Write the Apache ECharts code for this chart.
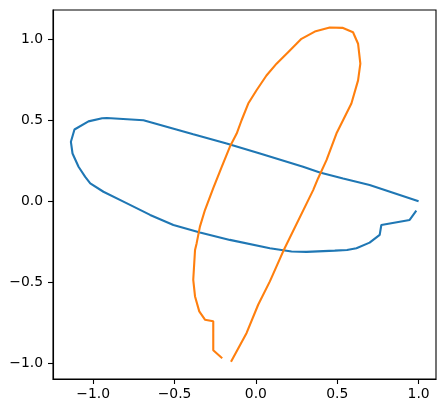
<!DOCTYPE html>
<html>
<head>
<meta charset="utf-8">
<script src="https://cdn.jsdelivr.net/npm/echarts@6/dist/echarts.min.js"></script>
<style>html,body{margin:0;padding:0;background:#fff;}#chart{width:446px;height:413px;}</style>
</head>
<body>
<div id="chart"></div>
<script>
const blueX = [1.0, 0.699, 0.536, 0.393, 0.290, 0.025, -0.180, -0.385, -0.691, -0.916, -0.945, -1.029, -1.115, -1.137, -1.127, -1.090, -1.049, -1.018, -0.937, -0.814, -0.650, -0.507, -0.344, -0.160, 0.086, 0.219, 0.311, 0.485, 0.560, 0.618, 0.699, 0.761, 0.771, 0.945, 0.986];
const blueY = [0.0, 0.100, 0.141, 0.178, 0.213, 0.295, 0.357, 0.414, 0.500, 0.514, 0.512, 0.493, 0.443, 0.367, 0.295, 0.213, 0.151, 0.111, 0.059, -0.002, -0.084, -0.146, -0.193, -0.238, -0.289, -0.310, -0.312, -0.304, -0.300, -0.289, -0.255, -0.207, -0.146, -0.115, -0.058];
const orangeX = [-0.207, -0.262, -0.262, -0.313, -0.348, -0.374, -0.385, -0.374, -0.364, -0.344, -0.313, -0.262, -0.210, -0.160, -0.118, -0.088, -0.047, 0.004, 0.065, 0.127, 0.198, 0.280, 0.362, 0.454, 0.532, 0.597, 0.628, 0.642, 0.628, 0.587, 0.495, 0.434, 0.382, 0.352, 0.167, 0.086, 0.014, -0.057, -0.153];
const orangeY = [-0.968, -0.919, -0.740, -0.730, -0.679, -0.587, -0.484, -0.300, -0.258, -0.156, -0.054, 0.082, 0.213, 0.336, 0.418, 0.500, 0.603, 0.685, 0.776, 0.849, 0.920, 1.002, 1.047, 1.072, 1.070, 1.043, 0.972, 0.849, 0.746, 0.603, 0.418, 0.254, 0.141, 0.069, -0.310, -0.494, -0.638, -0.812, -0.990];
const tickValues = [-1.0, -0.5, 0.0, 0.5, 1.0];

const zip = (xs, ys) => xs.map((x, i) => [x, ys[i]]);
const fmt = v => v.toFixed(1).replace('-', '\u2212');
const font = {fontFamily: 'DejaVu Sans', fontSize: 13.9, color: '#000'};

const chart = echarts.init(document.getElementById('chart'), null, {renderer: 'canvas'});
chart.setOption({
  animation: false,
  grid: {left: 53, right: 10, top: 10, bottom: 34, show: true, borderColor: '#000', borderWidth: 1.1, containLabel: false},
  xAxis: {
    type: 'value', min: -1.247, max: 1.107,
    splitLine: {show: false},
    axisLine: {show: true, onZero: false, lineStyle: {color: '#000', width: 1.1}},
    axisTick: {show: true, length: 5, customValues: tickValues, lineStyle: {color: '#000', width: 1.1}},
    axisLabel: Object.assign({customValues: tickValues, margin: 8, formatter: fmt}, font)
  },
  yAxis: {
    type: 'value', min: -1.096, max: 1.18,
    splitLine: {show: false},
    axisLine: {show: true, onZero: false, lineStyle: {color: '#000', width: 1.1}},
    axisTick: {show: true, length: 5, customValues: tickValues, lineStyle: {color: '#000', width: 1.1}},
    axisLabel: Object.assign({customValues: tickValues, margin: 10, formatter: fmt}, font)
  },
  series: [
    {type: 'line', data: zip(blueX, blueY), showSymbol: false, symbol: 'none', lineStyle: {color: '#1f77b4', width: 2.1}, clip: true},
    {type: 'line', data: zip(orangeX, orangeY), showSymbol: false, symbol: 'none', lineStyle: {color: '#ff7f0e', width: 2.1}, clip: true}
  ]
});
</script>
</body>
</html>
